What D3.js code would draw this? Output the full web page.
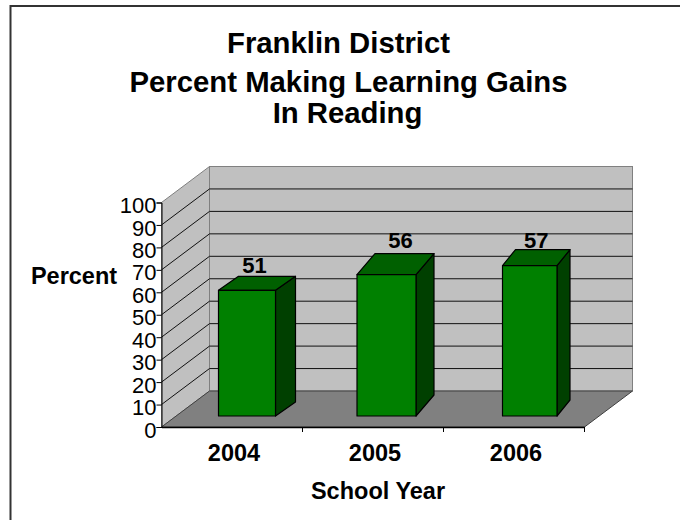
<!DOCTYPE html>
<html><head><meta charset="utf-8">
<script src="https://cdn.jsdelivr.net/npm/d3@7"></script>
<style>html,body{margin:0;padding:0;background:#fff}svg{display:block}text{font-family:"Liberation Sans",Arial,sans-serif;fill:#000}</style>
</head><body><div id="chart"></div>
<script>
const titleLines = ["Franklin District", "Percent Making Learning Gains", "In Reading"];
const categories = ["2004", "2005", "2006"];
const dataLabels = [51, 56, 57];
const drawnHeights = [56, 63, 67];
const yTicks = [0, 10, 20, 30, 40, 50, 60, 70, 80, 90, 100];
const xTitle = "School Year";
const yTitle = "Percent";

const svg = d3.select("#chart").append("svg").attr("width", 680).attr("height", 520);
// frame: only the top and left edges are visible in the reference
svg.append("path").attr("d", d3.line()([[10.5, 520], [10.5, 6], [680, 6]]))
  .attr("fill", "none").attr("stroke", "#333").attr("stroke-width", 2);

const frontLeft = 161.5, frontRight = 584.5, depthX = 48, depthY = -36;
const x = d3.scaleBand().domain(categories).range([frontLeft, frontRight]);
const y = d3.scaleLinear().domain([0, 100]).range([427, 202.5]);
const line = d3.line();

// the reference's bars are not uniform: per-category shape, relative to the band
const barShift = d3.scaleOrdinal().domain(categories).range([57, 54.5, 59]);
const barWide = d3.scaleOrdinal().domain(categories).range([57, 59, 54.5]);
const barDepth = d3.scaleOrdinal().domain(categories).range([[20, -14], [18, -21], [13, -16]]);
const labelNudge = d3.scaleOrdinal().domain(categories).range([[-2.5, 0], [5, -3], [0, 1]]);

// walls and floor
const wallTop = y(100) + depthY, wallBottom = y(0) + depthY;
svg.append("path").attr("d", line([[frontLeft, y(0)], [frontLeft, y(100)], [frontLeft + depthX, wallTop], [frontLeft + depthX, wallBottom]]) + "Z")
  .attr("fill", "#c0c0c0").attr("stroke", "#808080");
svg.append("rect").attr("x", frontLeft + depthX).attr("y", wallTop)
  .attr("width", frontRight - frontLeft).attr("height", wallBottom - wallTop)
  .attr("fill", "#c0c0c0").attr("stroke", "#808080");
svg.append("path").attr("d", line([[frontLeft, y(0)], [frontRight, y(0)], [frontRight + depthX, wallBottom], [frontLeft + depthX, wallBottom]]) + "Z")
  .attr("fill", "#808080").attr("stroke", "#404040");

// gridlines
const grid = svg.append("g").attr("fill", "none").attr("stroke", "#111").attr("stroke-width", 1);
yTicks.filter(t => t > 0 && t < 100).forEach(t => {
  grid.append("path").attr("d", line([[frontLeft, y(t)], [frontLeft + depthX, y(t) + depthY], [frontRight + depthX, y(t) + depthY]]));
});

// axes
const yAxis = d3.axisLeft(y).tickValues(yTicks).tickSize(5).tickPadding(0);
const gy = svg.append("g").attr("transform", `translate(${frontLeft},0)`).call(yAxis);
gy.selectAll("text").attr("font-size", 22).attr("dy", "0.46em").attr("font-family", '"Liberation Sans",Arial,sans-serif');
gy.selectAll("line,path").attr("stroke", "#000");
const gx = svg.append("g").attr("transform", `translate(0,${y(0)})`).call(
  d3.axisBottom(x).tickSize(0).tickPadding(17));
gx.select("path").attr("stroke", "#000").attr("stroke-width", 1.5);
gx.selectAll("text").attr("font-size", 23.5).attr("font-weight", "bold").attr("dx", 2)
  .attr("font-family", '"Liberation Sans",Arial,sans-serif');
x.domain().forEach(c => {
  const p = x(c) + x.step();
  svg.append("line").attr("x1", p).attr("x2", p).attr("y1", y(0)).attr("y2", y(0) + 5).attr("stroke", "#000");
});

// bars
const barFloor = -11;
const bars = svg.selectAll("g.bar").data(categories).join("g").attr("class", "bar")
  .attr("stroke", "#000").attr("stroke-width", 1.2).attr("stroke-linejoin", "round");
const yBase = y(0) + barFloor;
bars.each(function (c, i) {
  const g = d3.select(this);
  const l = x(c) + barShift(c), r = l + barWide(c);
  const [barDx, barDy] = barDepth(c);
  const [nudgeX, nudgeY] = labelNudge(c);
  const t = yBase - (y(0) - y(drawnHeights[i]));
  g.append("path").attr("d", line([[r, t], [r + barDx, t + barDy], [r + barDx, yBase + barDy], [r, yBase]]) + "Z").attr("fill", "#004000");
  g.append("path").attr("d", line([[l, t], [l + barDx, t + barDy], [r + barDx, t + barDy], [r, t]]) + "Z").attr("fill", "#006000");
  g.append("rect").attr("x", l).attr("y", t).attr("width", barWide(c)).attr("height", yBase - t).attr("fill", "#008000");
  svg.append("text").attr("x", (l + r) / 2 + barDx / 2 + nudgeX).attr("y", t + barDy - 3 + nudgeY)
    .attr("text-anchor", "middle").attr("font-size", 22).attr("font-weight", "bold").text(dataLabels[i]);
});

// titles
svg.append("g").selectAll("text").data(titleLines).join("text")
  .attr("x", (d, i) => [338.5, 348.5, 347.5][i]).attr("y", (d, i) => [53, 92, 123][i])
  .attr("text-anchor", "middle").attr("font-size", 29.3).attr("font-weight", "bold").text(d => d);
svg.append("text").attr("x", 74).attr("y", 284).attr("text-anchor", "middle")
  .attr("font-size", 23.5).attr("font-weight", "bold").text(yTitle);
svg.append("text").attr("x", 378).attr("y", 499).attr("text-anchor", "middle")
  .attr("font-size", 23.5).attr("font-weight", "bold").text(xTitle);
</script></body></html>
